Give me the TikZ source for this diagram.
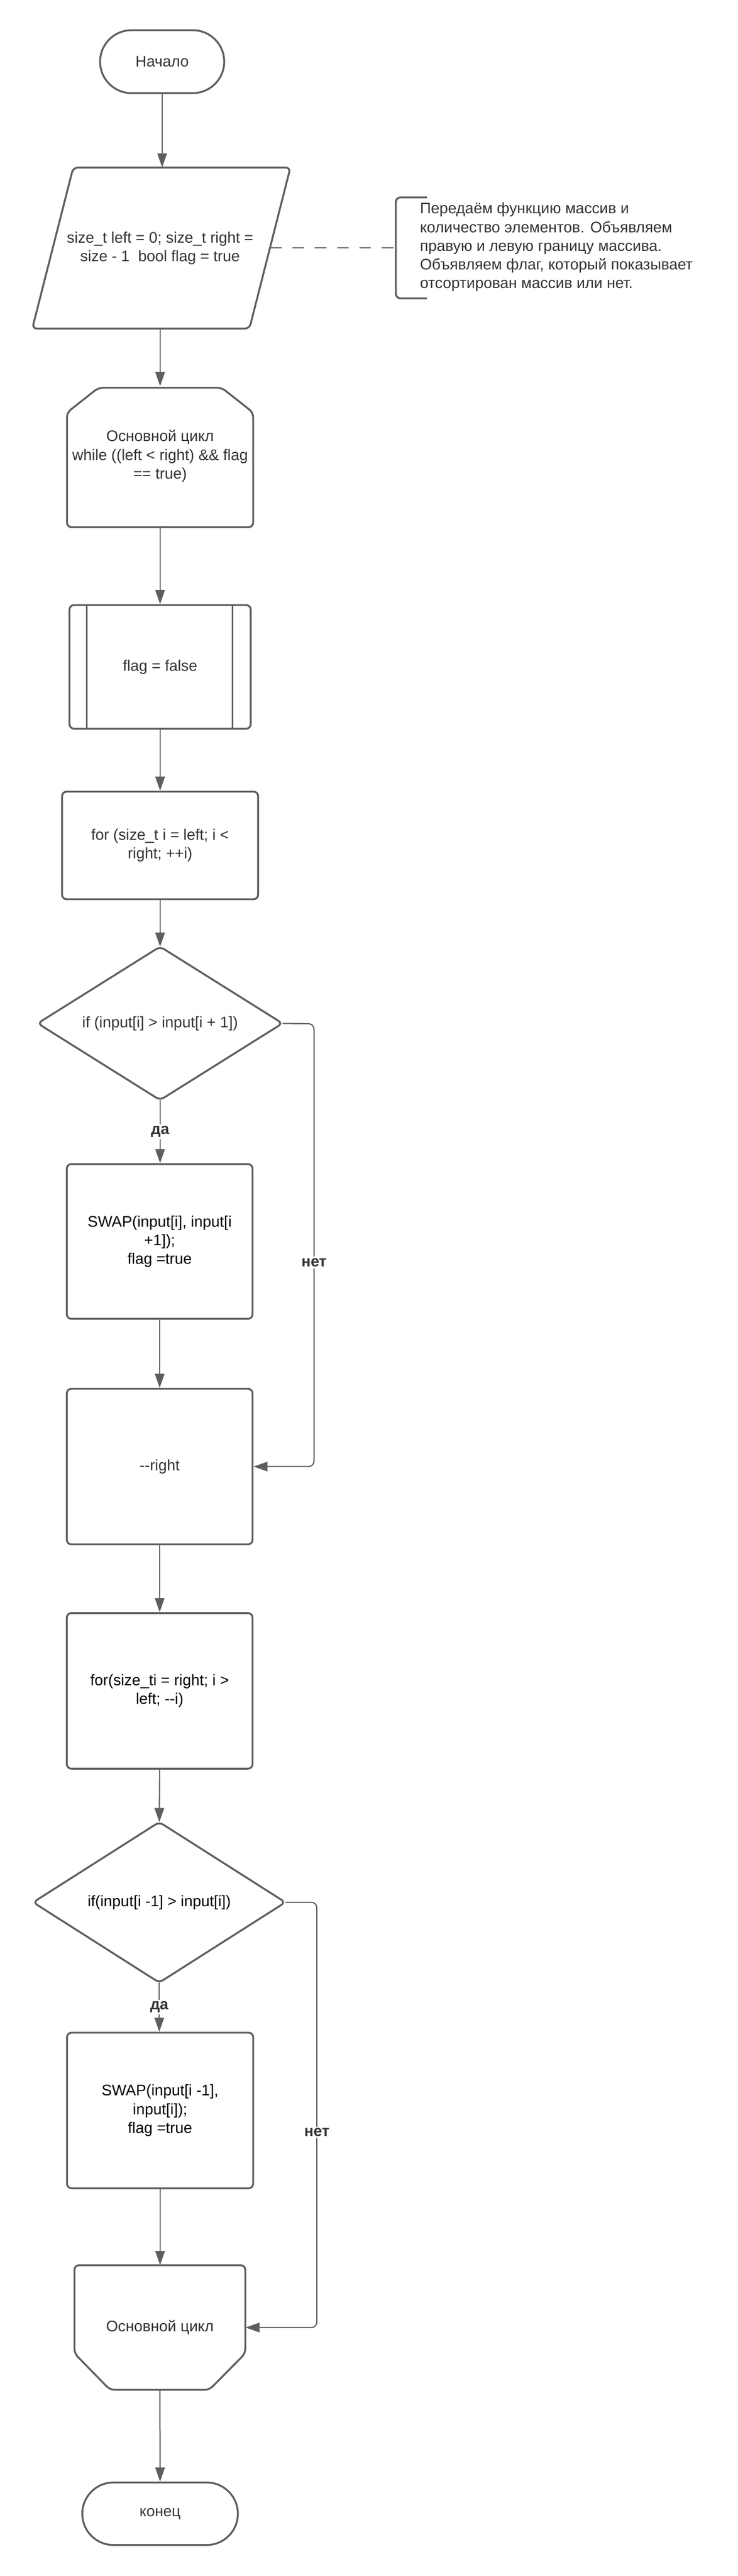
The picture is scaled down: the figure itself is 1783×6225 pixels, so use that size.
\documentclass[tikz,border=0pt]{standalone}
\usepackage{fontspec}
\setmainfont{Liberation Sans}
\usetikzlibrary{arrows.meta}
\definecolor{ln}{HTML}{5E5E5E}
\definecolor{tx}{HTML}{333333}
\begin{document}
\begin{tikzpicture}[x=0.5pt,y=-0.5pt,
  every node/.style={font=\fontsize{18.5pt}{22.5pt}\selectfont, text=tx, align=center, inner sep=0pt},
  box/.style={draw=ln, line width=2.25pt, rounded corners=5.5pt, rectangle},
  ghost/.style={rectangle},
  shp/.style={draw=ln, line width=2.25pt, rounded corners=5.5pt},
  conn/.style={draw=ln, line width=1.4pt, -{Triangle[length=17pt,width=11.5pt]}},
  elbow/.style={conn, rounded corners=6.5pt},
  lbl/.style={font=\fontsize{18.5pt}{22.5pt}\selectfont\bfseries, fill=white, inner sep=2pt},
  blk/.style={text=black},
]
\fill[white] (0,0) rectangle (1783,6225);
\useasboundingbox (0,0) rectangle (1783,6225);

% start
\node[box, rounded corners=37.9pt, minimum width=150pt, minimum height=76pt] (start) at (392,149) {Начало};

% parallelogram
\node[ghost, minimum width=312pt, minimum height=194.5pt] (para) at (387,599.5)
  {size\_t left = 0; size\_t right =\\ size - 1\ \ bool flag = true};
\draw[shp] (177,405) -- (702,405) -- (603,794) -- (78,794) -- cycle;
\coordinate (paraR) at (653,599);

% note
\coordinate (brk) at (957,599);
\draw[ln, line width=2.25pt, rounded corners=5.5pt] (1032,477) -- (957,477) -- (957,721) -- (1032,721);
\node[anchor=west, align=left] (note) at (1015,597)
  {Передаём функцию массив и\\количество элементов. Объявляем\\правую и левую границу массива.\\Объявляем флаг, который показывает\\отсортирован массив или нет.};
\draw[ln, line width=1.6pt, dash pattern=on 14pt off 13pt] (paraR) -- (brk);

% while (loop start)
\node[ghost, minimum width=225pt, minimum height=168.5pt] (while) at (387,1102)
  {Основной цикл\\while ((left < right) \&\& flag\\== true)};
\draw[shp] (162,1274) -- (162,997) -- (238,937) -- (536,937) -- (612,997) -- (612,1274) -- cycle;

% flag = false (predefined process)
\node[box, minimum width=219pt, minimum height=149.5pt] (flagbox) at (387,1611.5) {flag = false};
\draw[ln, line width=2.25pt] ([xshift=22pt]flagbox.north west) -- ([xshift=22pt]flagbox.south west);
\draw[ln, line width=2.25pt] ([xshift=-23pt]flagbox.north east) -- ([xshift=-23pt]flagbox.south east);

% for 1
\node[box, minimum width=237pt, minimum height=130pt] (for1) at (387,2043) {for (size\_t i = left; i <\\right; ++i)};

% diamond 1
\node[ghost, minimum width=295.5pt, minimum height=185pt] (d1) at (387,2473) {if (input[i] > input[i + 1])};
\draw[shp] (d1.north) -- (d1.east) -- (d1.south) -- (d1.west) -- cycle;

% swap 1
\node[box, blk, minimum width=224.5pt, minimum height=187pt] (swap1) at (386,3000) {SWAP(input[i], input[i\\+1]);\\flag =true};

% --right
\node[box, minimum width=224.5pt, minimum height=188pt] (right) at (386,3544) {-{}-right};

% for 2
\node[box, blk, minimum width=224.5pt, minimum height=188pt] (for2) at (386,4086) {for(size\_ti = right; i >\\left; -{}-i)};

% diamond 2
\node[ghost, blk, minimum width=304.5pt, minimum height=193.5pt] (d2) at (385,4597) {if(input[i -1] > input[i])};
\draw[shp] (d2.north) -- (d2.east) -- (d2.south) -- (d2.west) -- cycle;

% swap 2
\node[box, blk, minimum width=225pt, minimum height=188pt] (swap2) at (387,5100) {SWAP(input[i -1],\\input[i]);\\flag =true};

% loop end
\node[ghost, minimum width=206.5pt, minimum height=150.5pt] (loopend) at (386.5,5624.5) {Основной цикл};
\draw[shp] (180,5474) -- (593,5474) -- (593,5687) -- (506,5775) -- (266,5775) -- (180,5687) -- cycle;

% end
\node[box, rounded corners=37.6pt, minimum width=188pt, minimum height=75.5pt] (end) at (387,6074.5) {конец};

% connectors
\draw[conn] (start.south) -- (start.south |- para.north);
\draw[conn] (para.south) -- (while.north);
\draw[conn] (while.south) -- (flagbox.north);
\draw[conn] (flagbox.south) -- (for1.north);
\draw[conn] (for1.south) -- (d1.north);
\draw[conn] (d1.south) -- (d1.south |- swap1.north) node[lbl, midway] (da1) {да};
\draw[conn] (swap1.south) -- (right.north);
\draw[conn] (right.south) -- (for2.north);
\draw[conn] (for2.south) -- (d2.north);
\draw[conn] (d2.south) -- (d2.south |- swap2.north) node[lbl, midway] (da2) {да};
\draw[conn] (swap2.south) -- (swap2.south |- loopend.north);
\draw[conn] (loopend.south |- 0,5775) -- (end.north);

\coordinate (n1) at (759,2474);
\coordinate (n2) at (766,4597);
\draw[elbow] (d1.east) -- (n1) -- (n1 |- right.east) -- (right.east);
\node[lbl] (net1) at (759,3051) {нет};
\draw[elbow] (d2.east) -- (n2) -- (n2 |- loopend.east) -- ([xshift=0pt]loopend.east);
\node[lbl] (net2) at (766,5153) {нет};
\end{tikzpicture}
\end{document}
